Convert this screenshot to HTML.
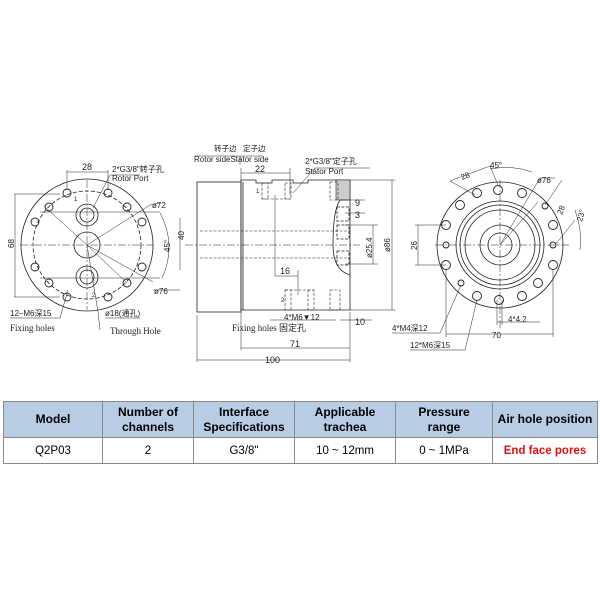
<!DOCTYPE html>
<html><head><meta charset="utf-8"><style>
body{margin:0;background:#fff;width:600px;height:600px;overflow:hidden;font-family:"Liberation Sans","Noto Sans CJK SC",sans-serif}
svg{position:absolute;left:0;top:0}
table{position:absolute;left:3px;top:401px;width:595px;border-collapse:collapse;font-family:"Liberation Sans","Noto Sans CJK SC",sans-serif;font-size:11.5px;text-align:center}
td,th{border:1px solid #8a8a8a;padding:0}
th{background:#b8cce4;height:35px;font-weight:bold;font-size:12px;line-height:15px}
td{height:25px}
</style></head><body>
<svg width="600" height="600" viewBox="0 0 600 600" font-family="Liberation Sans, Noto Sans CJK SC, sans-serif" font-size="9" fill="none" stroke="#222" stroke-width="0.8">
<!-- LEFT VIEW -->
<g>
<circle cx="87" cy="245" r="66"/>
<circle cx="87" cy="245" r="54" stroke-dasharray="4,2"/>
<circle cx="87" cy="245" r="13"/>
<circle cx="87" cy="215" r="11"/><circle cx="87" cy="215" r="7"/>
<circle cx="87" cy="277" r="11"/><circle cx="87" cy="277" r="7"/>
<g stroke-width="0.9">
<circle cx="67" cy="193" r="4"/><circle cx="108" cy="193" r="4"/>
<circle cx="49" cy="207" r="4"/><circle cx="127" cy="207" r="4"/>
<circle cx="35" cy="222" r="4"/><circle cx="142" cy="222" r="4"/>
<circle cx="35" cy="267" r="4"/><circle cx="142" cy="267" r="4"/>
<circle cx="49" cy="283" r="4"/><circle cx="127" cy="283" r="4"/>
<circle cx="67" cy="297" r="4"/><circle cx="108" cy="297" r="4"/>
</g>
<g stroke-width="0.5">
<line x1="20" y1="245" x2="155" y2="245" stroke-dasharray="8,2,2,2"/>
<line x1="87" y1="180" x2="87" y2="310" stroke-dasharray="8,2,2,2"/>
<line x1="40" y1="212" x2="160" y2="212"/><line x1="40" y1="278" x2="160" y2="278"/>
<line x1="87" y1="245" x2="45" y2="207"/><line x1="87" y1="245" x2="150" y2="205"/>
<line x1="87" y1="245" x2="153" y2="282"/><line x1="87" y1="245" x2="127" y2="283"/>
<line x1="87" y1="245" x2="98" y2="312"/><line x1="98" y1="312" x2="100" y2="330"/>
<line x1="14" y1="194" x2="60" y2="194"/><line x1="14" y1="297" x2="60" y2="297"/>
<line x1="15" y1="194" x2="15" y2="297"/>
<line x1="67" y1="170" x2="67" y2="190"/><line x1="108" y1="170" x2="108" y2="190"/>
<line x1="67" y1="172" x2="108" y2="172"/>
<line x1="110" y1="175" x2="93" y2="208"/><line x1="110" y1="175" x2="140" y2="175"/>
<line x1="180" y1="218" x2="180" y2="270"/>
<path d="M160 213 A70 70 0 0 1 162 278"/>
<line x1="150" y1="205" x2="160" y2="203"/><line x1="153" y1="290" x2="180" y2="290"/>
<line x1="68" y1="290" x2="60" y2="318"/><line x1="10" y1="318" x2="60" y2="318"/>
<line x1="105" y1="318" x2="140" y2="318"/>
</g>
<g fill="#222" stroke="none">
<text x="82" y="170">28</text>
<text x="112" y="172" font-size="8">2*G3/8"转子孔</text>
<text x="112" y="181" font-size="8">Rotor Port</text>
<text x="152" y="208" font-size="8">ø72</text>
<text x="154" y="294" font-size="8">ø76</text>
<text x="12" y="250" transform="rotate(-90 12 248)" font-size="8" x="6">68</text>
<text x="0" y="0" transform="translate(184 240) rotate(-90)" font-size="8">40</text>
<text x="0" y="0" transform="translate(170 252) rotate(-90)" font-size="8">45°</text>
<text x="74" y="201" font-size="6">1</text><text x="92" y="297" font-size="6">2</text>
<text x="10" y="316" font-size="8">12–M6深15</text>
<text x="105" y="316" font-size="8">ø18(通孔)</text>
<text x="10" y="331" font-family="Liberation Serif, serif" font-size="9">Fixing holes</text>
<text x="110" y="334" font-family="Liberation Serif, serif" font-size="9">Through Hole</text>
</g>
</g>
<!-- MIDDLE VIEW -->
<g>
<rect x="197" y="182" width="44" height="130"/>
<path d="M241 180 H256 V183 H272 V180 H293 V183 H308 V180 H350 V310 H241 Z"/>
<line x1="243" y1="182" x2="243" y2="310"/>
<path d="M336 180 H350 V200 H336 Z" fill="#ccc" stroke-width="0.6"/>
<path d="M350 200 H340 Q333 210 333 245 Q333 270 350 275" />
<rect x="337" y="207" width="12" height="14" stroke-dasharray="3,1.5"/>
<rect x="337" y="225" width="12" height="14" stroke-dasharray="3,1.5"/>
<rect x="337" y="251" width="12" height="14" stroke-dasharray="3,1.5"/>
<g stroke-dasharray="3,1.5" stroke-width="0.6">
<rect x="262" y="183" width="6" height="16"/><rect x="285" y="183" width="6" height="16"/>
<line x1="262" y1="199" x2="291" y2="199"/>
<rect x="285" y="290" width="6" height="20"/><rect x="308" y="290" width="6" height="20"/>
<line x1="285" y1="290" x2="314" y2="290"/>
<rect x="330" y="290" width="10" height="20"/>
<rect x="330" y="182" width="8" height="18"/>
<line x1="200" y1="231" x2="350" y2="231"/><line x1="200" y1="258" x2="350" y2="258"/>
</g>
<g stroke-width="0.5">
<line x1="185" y1="245" x2="360" y2="245" stroke-dasharray="8,2,2,2"/>
<line x1="241" y1="173" x2="290" y2="173"/><line x1="241" y1="168" x2="241" y2="180"/><line x1="290" y1="168" x2="290" y2="195"/>
<line x1="275" y1="195" x2="275" y2="276"/><line x1="275" y1="276" x2="298" y2="276"/><line x1="298" y1="270" x2="298" y2="295"/>
<line x1="293" y1="193" x2="315" y2="168"/><line x1="315" y1="168" x2="370" y2="168"/>
<line x1="197" y1="315" x2="197" y2="362"/><line x1="350" y1="312" x2="350" y2="362"/><line x1="197" y1="360" x2="350" y2="360"/>
<line x1="241" y1="312" x2="241" y2="350"/><line x1="241" y1="348" x2="350" y2="348"/>
<line x1="270" y1="320" x2="336" y2="320"/><line x1="340" y1="320" x2="372" y2="320"/>
<line x1="350" y1="200" x2="365" y2="200"/><line x1="345" y1="213" x2="365" y2="213"/>
<line x1="350" y1="180" x2="395" y2="180"/><line x1="350" y1="310" x2="395" y2="310"/>
<line x1="392" y1="180" x2="392" y2="310"/>
<line x1="345" y1="225" x2="378" y2="225"/><line x1="345" y1="264" x2="378" y2="264"/>
<line x1="373" y1="225" x2="373" y2="264"/>
<line x1="195" y1="156" x2="263" y2="156"/><line x1="240" y1="156" x2="240" y2="165"/>
</g>
<g fill="#222" stroke="none">
<text x="214" y="151" font-size="7.5">转子边</text><text x="243" y="151" font-size="7.5">定子边</text>
<text x="194" y="162" font-size="8">Rotor sideStator side</text>
<text x="255" y="172">22</text>
<text x="305" y="164" font-size="8">2*G3/8"定子孔</text>
<text x="305" y="174" font-size="8">Stator Port</text>
<text x="280" y="274">16</text>
<text x="256" y="193" font-size="6">1</text><text x="281" y="302" font-size="6">2</text>
<text x="355" y="206">9</text><text x="355" y="218">3</text>
<text x="0" y="0" transform="translate(372 258) rotate(-90)" font-size="8">ø25.4</text>
<text x="0" y="0" transform="translate(390 252) rotate(-90)" font-size="8">ø86</text>
<text x="284" y="320" font-size="8">4*M6▼12</text>
<text x="355" y="325">10</text>
<text x="232" y="331" font-family="Liberation Serif, serif" font-size="9">Fixing holes 固定孔</text>
<text x="290" y="347">71</text>
<text x="265" y="363">100</text>
</g>
</g>
<!-- RIGHT VIEW -->
<g>
<circle cx="500" cy="245" r="63"/>
<circle cx="500" cy="245" r="44"/>
<circle cx="500" cy="245" r="40"/>
<circle cx="500" cy="245" r="35"/>
<circle cx="500" cy="245" r="20"/>
<circle cx="500" cy="245" r="12"/>
<g stroke-width="0.9">
<circle cx="498" cy="190" r="4.5"/><circle cx="477" cy="193" r="4.5"/><circle cx="522" cy="193" r="4.5"/>
<circle cx="460" cy="205" r="4.5"/><circle cx="545" cy="206" r="3"/>
<circle cx="446" cy="225" r="4.5"/><circle cx="553" cy="225" r="4.5"/>
<circle cx="446" cy="245" r="3"/><circle cx="553" cy="245" r="3"/>
<circle cx="446" cy="265" r="4.5"/><circle cx="553" cy="265" r="4.5"/>
<circle cx="461" cy="283" r="3"/><circle cx="538" cy="283" r="4.5"/>
<circle cx="477" cy="296" r="4.5"/><circle cx="499" cy="300" r="4.5"/><circle cx="522" cy="296" r="4.5"/>
</g>
<g stroke-width="0.5">
<line x1="435" y1="245" x2="570" y2="245" stroke-dasharray="8,2,2,2"/>
<line x1="500" y1="180" x2="500" y2="330" stroke-dasharray="8,2,2,2"/>
<line x1="450" y1="181" x2="490" y2="166"/><line x1="450" y1="181" x2="475" y2="195"/><line x1="490" y1="166" x2="498" y2="185"/>
<path d="M490 169 A78 78 0 0 1 532 172"/>
<line x1="500" y1="245" x2="540" y2="178"/><line x1="540" y1="178" x2="555" y2="178"/>
<line x1="500" y1="245" x2="538" y2="202"/>
<line x1="545" y1="205" x2="562" y2="180"/><line x1="555" y1="245" x2="575" y2="220"/>
<path d="M575 210 A85 85 0 0 1 580 250"/>
<line x1="415" y1="225" x2="446" y2="225"/><line x1="415" y1="265" x2="446" y2="265"/><line x1="418" y1="225" x2="418" y2="265"/>
<line x1="446" y1="270" x2="446" y2="337"/><line x1="553" y1="270" x2="553" y2="337"/><line x1="446" y1="334" x2="553" y2="334"/>
<line x1="497" y1="300" x2="497" y2="325"/><line x1="502" y1="300" x2="502" y2="325"/><line x1="497" y1="322" x2="540" y2="322"/>
<line x1="461" y1="285" x2="440" y2="333"/><line x1="392" y1="333" x2="440" y2="333"/>
<line x1="477" y1="300" x2="465" y2="350"/><line x1="410" y1="350" x2="465" y2="350"/>
</g>
<g fill="#222" stroke="none">
<text x="0" y="0" transform="translate(462 180) rotate(-20)" font-size="8">28</text>
<text x="490" y="168" font-size="8">45°</text>
<text x="537" y="183" font-size="8">ø76</text>
<text x="0" y="0" transform="translate(562 215) rotate(-70)" font-size="8">28</text>
<text x="0" y="0" transform="translate(582 222) rotate(-75)" font-size="8">23°</text>
<text x="0" y="0" transform="translate(417 250) rotate(-90)" font-size="8">26</text>
<text x="508" y="322" font-size="8">4*4.2</text>
<text x="492" y="338" font-size="8">70</text>
<text x="392" y="331" font-size="8">4*M4深12</text>
<text x="410" y="348" font-size="8">12*M6深15</text>
</g>
</g>
</svg>
<table>
<tr><th style="width:98px">Model</th><th style="width:90px">Number of<br>channels</th><th style="width:100px">Interface<br>Specifications</th><th style="width:100px">Applicable<br>trachea</th><th style="width:96px">Pressure<br>range</th><th>Air hole position</th></tr>
<tr><td>Q2P03</td><td>2</td><td>G3/8"</td><td>10 ~ 12mm</td><td>0 ~ 1MPa</td><td style="color:#e01010;font-weight:bold">End face pores</td></tr>
</table>
</body></html>
